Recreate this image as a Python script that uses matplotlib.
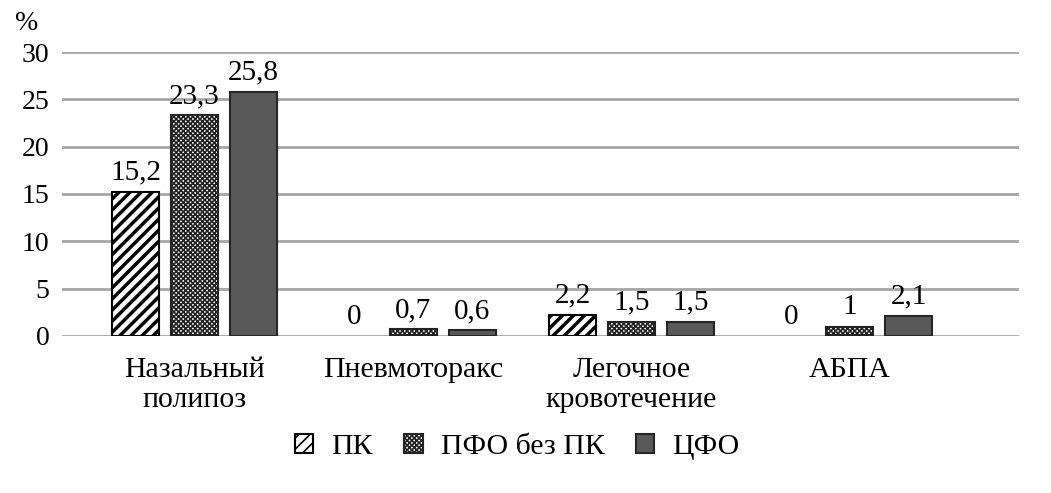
import numpy as np
import matplotlib
matplotlib.use('Agg')
import matplotlib.pyplot as plt

plt.rcParams['font.family'] = ['Liberation Serif', 'DejaVu Serif']
plt.rcParams['hatch.linewidth'] = 2.5

categories = ['Назальный\nполипоз', 'Пневмоторакс', 'Легочное\nкровотечение', 'АБПА']
series_names = ['ПК', 'ПФО без ПК', 'ЦФО']
pk = [15.2, 0, 2.2, 0]
pfo = [23.3, 0.7, 1.5, 1]
cfo = [25.8, 0.6, 1.5, 2.1]
labels_pk = ['15,2', '0', '2,2', '0']
labels_pfo = ['23,3', '0,7', '1,5', '1']
labels_cfo = ['25,8', '0,6', '1,5', '2,1']

fig = plt.figure(figsize=(10.51, 4.93), dpi=100)
ax = fig.add_axes([0.059, 0.3185, 0.911, 0.576])

x = np.arange(len(categories))
w = 0.215
step = 0.27

b1 = ax.bar(x - step, pk, w, facecolor='white', edgecolor='black', hatch='///', linewidth=1.5, label=series_names[0], zorder=3)
plt.rcParams['hatch.linewidth'] = 1.2
b2 = ax.bar(x, pfo, w, facecolor='white', edgecolor='#222222', hatch='xxxxxxx', linewidth=1.5, label=series_names[1], zorder=3)
b3 = ax.bar(x + step, cfo, w, facecolor='#595959', edgecolor='#262626', linewidth=1.5, label=series_names[2], zorder=3)

for bars, labs in [(b1, labels_pk), (b2, labels_pfo), (b3, labels_cfo)]:
    for rect, lab in zip(bars, labs):
        if rect.get_height() == 0:
            rect.set_visible(False)
        ax.text(rect.get_x() + rect.get_width() / 2, rect.get_height() + 1.3, lab,
                ha='center', va='baseline', fontsize=21)

ax.set_ylim(0, 30)
ax.set_yticks(range(0, 31, 5))
ax.set_xlim(-0.607, 3.776)
ax.set_xticks(x)
ax.set_xticklabels(categories, fontsize=21.5, linespacing=1.2)
ax.tick_params(axis='y', labelsize=20, length=0, pad=9)
ax.tick_params(axis='x', length=0, pad=15)
ax.yaxis.grid(True, color='#a6a6a6', linewidth=2)
ax.set_axisbelow(True)
for s in ax.spines.values():
    s.set_visible(False)

fig.text(0.014, 0.94, '%', fontsize=20)

fig.legend(handles=[b1, b2, b3], loc='center', bbox_to_anchor=(0.492, 0.093), ncol=3,
           frameon=False, fontsize=21.5, handlelength=0.62, handleheight=0.62,
           handletextpad=0.6, columnspacing=1.05)

fig.savefig('out.png', dpi=100)
